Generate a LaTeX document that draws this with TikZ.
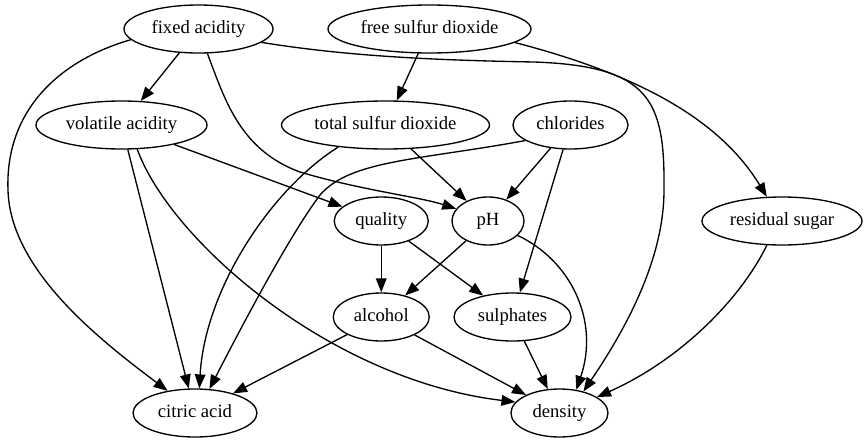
\documentclass[tikz,border=0pt]{standalone}
\usepackage{fontspec}
\setmainfont{Liberation Serif}
\usetikzlibrary{arrows.meta,shapes.geometric}
\newcommand{\gvt}[1]{\makebox[0pt]{#1}}
\begin{document}
\begin{tikzpicture}[x=0.75pt,y=-0.75pt,
  gv/.style={draw, ellipse, line width=1pt, minimum height=36pt, inner sep=0pt,
    text height=10pt, text depth=3pt, font=\fontsize{14}{16}\selectfont},
  edge/.style={line width=1pt, -{Triangle[length=10.5pt,width=8pt]}}]
\useasboundingbox (0,0) rectangle (868,443);
% nodes
\node[gv, minimum width=111.75pt] (fa)  at (198.5,29)  {\gvt{fixed acidity}};
\node[gv, minimum width=152.25pt] (fsd) at (429.5,29)  {\gvt{free sulfur dioxide}};
\node[gv, minimum width=128.25pt] (va)  at (121.5,125) {\gvt{volatile acidity}};
\node[gv, minimum width=156pt]    (tsd) at (385.5,125) {\gvt{total sulfur dioxide}};
\node[gv, minimum width=86.25pt]  (ch)  at (570.5,125) {\gvt{chlorides}};
\node[gv, minimum width=70.5pt]   (q)   at (381.25,221) {\gvt{quality}};
\node[gv, minimum width=54pt]     (ph)  at (488,221)   {\gvt{pH}};
\node[gv, minimum width=120pt]    (rs)  at (782,221)   {\gvt{residual sugar}};
\node[gv, minimum width=72pt]     (al)  at (381.25,317) {\gvt{alcohol}};
\node[gv, minimum width=87.75pt]  (su)  at (512.5,317) {\gvt{sulphates}};
\node[gv, minimum width=93pt]     (ca)  at (195,413)   {\gvt{citric acid}};
\node[gv, minimum width=72.75pt]  (de)  at (559.5,413) {\gvt{density}};
% straight edges
\draw[edge] (fa) -- (va);
\draw[edge] (fsd) -- (tsd);
\draw[edge] (va) -- (q);
\draw[edge] (va) -- (ca);
\draw[edge] (tsd) -- (ph);
\draw[edge] (ch) -- (ph);
\draw[edge] (ch) -- (su);
\draw[edge] (q) -- (al);
\draw[edge] (q) -- (su);
\draw[edge] (ph) -- (al);
\draw[edge] (al) -- (ca);
\draw[edge] (al) -- (de);
\draw[edge] (su) -- (de);
% curved edges
\draw[edge] (fa.290) .. controls (225,100) and (240,150) .. (300,172)
  .. controls (360,190) and (420,197) .. (ph.159);
\draw[edge] (fa.348) .. controls (340,55) and (420,60) .. (534,62)
  .. controls (650,66) and (665,100) .. (664,190)
  .. controls (664,260) and (625,330) .. (de.42);
\draw[edge] (fa.189) .. controls (60,60) and (5,110) .. (8,190)
  .. controls (10,270) and (100,340) .. (ca.141);
\draw[edge] (fsd.351) .. controls (640,75) and (720,120) .. (rs.122);
\draw[edge] (va.303) .. controls (170,240) and (330,380) .. (de.166);
\draw[edge] (tsd.205) .. controls (270,190) and (205,290) .. (ca.80);
\draw[edge] (ch.199) .. controls (420,160) and (350,160) .. (320,195)
  .. controls (290,235) and (245,320) .. (ca.59);
\draw[edge] (ph.334) .. controls (570,260) and (600,320) .. (de.54);
\draw[edge] (rs.238) .. controls (740,300) and (680,360) .. (de.23);
\end{tikzpicture}
\end{document}
